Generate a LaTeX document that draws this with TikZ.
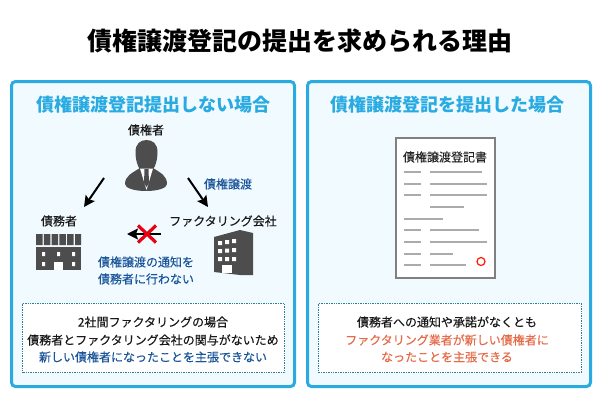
\documentclass[tikz,border=0pt]{standalone}
\usepackage{fontspec}
\setmainfont{Noto Sans CJK JP}
\newfontfamily\mediumfont[FakeBold=0.2]{Noto Sans CJK JP}
\usetikzlibrary{arrows.meta}
\definecolor{panelblue}{HTML}{29ABE2}
\definecolor{panelfill}{HTML}{F0FAFF}
\definecolor{notedot}{HTML}{2E7F96}
\definecolor{textblue}{HTML}{1A5599}
\definecolor{textorange}{HTML}{E66A48}
\definecolor{icongray}{HTML}{4D4D4D}
\definecolor{linegray}{HTML}{ABABAB}
\definecolor{crossred}{HTML}{E60012}
\tikzset{
	panel/.style={draw=panelblue,fill=panelfill,line width=3pt,rounded corners=4pt},
	note/.style={draw=notedot,fill=white,line width=.7pt,densely dotted},
	heading/.style={inner sep=0pt,text=panelblue,font=\fontsize{18}{18}\selectfont\bfseries},
	label/.style={inner sep=0pt,text=black!90,font=\fontsize{12}{12}\selectfont\mediumfont},
	bluelabel/.style={label,text=textblue},
	orangelabel/.style={label,text=textorange},
	flow/.style={-{Stealth[length=11pt,width=11pt,inset=2pt]},line width=2pt,black},
	cross/.style={draw=crossred,line width=3.2pt},
	icon/.style={fill=icongray},
	hole/.style={fill=white},
	docline/.style={draw=linegray,line width=1.6pt}
}
\begin{document}
\begin{tikzpicture}[x=1pt,y=-1pt]
	\useasboundingbox[fill=white] (0,0) rectangle (600,400);
	\node[inner sep=0pt,text=black,font=\fontsize{25}{25}\selectfont\bfseries] (title) at (300,41) {債権譲渡登記の提出を求められる理由};
	% left panel
	\draw[panel] (11.5,81.5) rectangle (294.5,386.5);
	\node[heading] (lefthead) at (153.5,105) {債権譲渡登記提出しない場合};
	\node[label] (creditor) at (146,130) {債権者};
	\node[label] (debtor) at (59,221) {債務者};
	\node[label] (factor) at (223,221) {ファクタリング会社};
	\node[bluelabel] (transfer) at (228,184) {債権譲渡};
	\node[bluelabel] (notice) at (146,262) {債権譲渡の通知を};
	\node[bluelabel] (noticeb) at (146,279) {債務者に行わない};
	% person
	\fill[icon] (135.5,152) .. controls (135.5,144) and (140,140) .. (146.5,140) .. controls (153,140) and (157.5,144) .. (157.5,152) .. controls (157.5,162) and (154,173) .. (146.5,173) .. controls (139,173) and (135.5,162) .. (135.5,152) -- cycle;
	\fill[icon] (125,184) .. controls (125,176) and (132,173) .. (140,168) -- (153,168) .. controls (161,173) and (167,176) .. (167,184) .. controls (167,188) and (158,191) .. (146,191) .. controls (134,191) and (125,188) .. (125,184) -- cycle;
	\fill[hole] (140,168.5) -- (153,168.5) -- (146.5,190) -- cycle;
	\fill[icon] (144.5,169) -- (148.5,169) -- (149,183) -- (146.5,187) -- (144,183) -- cycle;
	% arrows
	\coordinate (leftstart) at (104,178);
	\coordinate (leftend) at (84,207);
	\coordinate (rightstart) at (188,178);
	\coordinate (rightend) at (208,207);
	\coordinate (noticestart) at (161,234);
	\coordinate (noticeend) at (127,234);
	\draw[flow] (leftstart) -- (leftend);
	\draw[flow] (rightstart) -- (rightend);
	\draw[flow] (noticestart) -- (noticeend);
	\draw[cross] (138,225.5) -- (156,242.5);
	\draw[cross] (156,225.5) -- (138,242.5);
	% debtor building
	\fill[icon] (36,234) rectangle (42.5,245) (43.8,234) rectangle (50.3,245) (51.6,234) rectangle (58.1,245) (59.4,234) rectangle (65.9,245) (67.2,234) rectangle (73.7,245) (75,234) rectangle (81,245);
	\fill[icon] (36,247) rectangle (81,270);
	\fill[hole] (42,252) rectangle (45,256) (57,252) rectangle (60,256) (72,252) rectangle (75,256);
	\fill[hole] (42,262) rectangle (45,266) (72,262) rectangle (75,266);
	\fill[hole] (54,262) rectangle (63,270);
	% factoring building
	\fill[icon] (214,237) -- (240,230) -- (253,233) -- (253,275) -- (240,275) -- (214,272) -- cycle;
	\fill[hole] (218,241) rectangle (222,245) (225,240) rectangle (229,244) (232,239) rectangle (236,243);
	\fill[hole] (218,249) rectangle (222,253) (225,248.5) rectangle (229,252.5) (232,248) rectangle (236,252);
	\fill[hole] (218,257) rectangle (222,261) (225,257) rectangle (229,261) (232,257) rectangle (236,261);
	\fill[hole] (222,265) rectangle (232,273);
	% left note
	\draw[note] (22,303.5) rectangle (284.5,372.5);
	\node[label] (leftnotea) at (153,322) {2社間ファクタリングの場合};
	\node[label] (leftnoteb) at (153,340) {債務者とファクタリング会社の関与がないため};
	\node[bluelabel] (leftnotec) at (153,357) {新しい債権者になったことを主張できない};
	% right panel
	\draw[panel] (307.5,81.5) rectangle (590.5,386.5);
	\node[heading] (righthead) at (447,105) {債権譲渡登記を提出した場合};
	% document
	\draw[draw=gray,fill=white,line width=2pt] (396,137.5) rectangle (495,277.5);
	\node[label,text=black!85] (doctitle) at (445,157) {債権譲渡登記書};
	\draw[docline] (404,172) -- (421,172) (430,172) -- (482,172);
	\draw[docline] (404,184) -- (421,184) (430,184) -- (487,184);
	\draw[docline] (404,195) -- (421,195) (430,195) -- (487,195);
	\draw[docline] (430,207) -- (464,207);
	\draw[docline] (404,219) -- (443,219);
	\draw[docline] (404,230) -- (421,230) (430,230) -- (479,230);
	\draw[docline] (404,242) -- (421,242) (430,242) -- (487,242);
	\draw[docline] (404,254) -- (421,254) (430,254) -- (453,254);
	\draw[docline] (404,265) -- (421,265) (430,265) -- (466,265);
	\draw[draw=red!80!orange,line width=1.2pt] (481,261.5) circle (4pt);
	% right note
	\draw[note] (318.5,303.5) rectangle (581.5,372.5);
	\node[label] (rightnotea) at (447,322) {債務者への通知や承諾がなくとも};
	\node[orangelabel] (rightnoteb) at (447,340) {ファクタリング業者が新しい債権者に};
	\node[orangelabel] (rightnotec) at (447,357) {なったことを主張できる};
\end{tikzpicture}
\end{document}
